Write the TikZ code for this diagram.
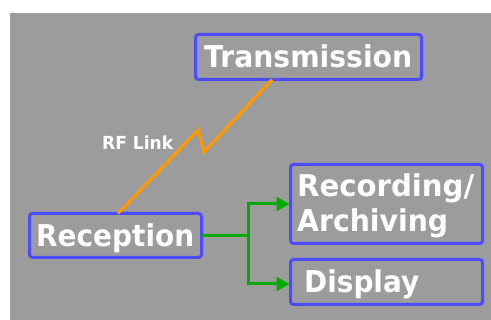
\documentclass[tikz,border=0pt]{standalone}
\usepackage{fontspec}
\setmainfont{DejaVu Sans}
\usetikzlibrary{arrows.meta}
\definecolor{panel}{HTML}{9C9C9C}
\definecolor{boxblue}{HTML}{4B4BFF}
\definecolor{rforange}{HTML}{FF9900}
\definecolor{linkgreen}{HTML}{00AA00}
% stretch or squeeze a word to a given width, keeping its height
\newcommand{\fitw}[2]{\resizebox{#1}{\height}{#2}}
\tikzset{
  blockbox/.style={draw=boxblue, line width=3pt, rounded corners=3pt,
    fill=panel, inner sep=0pt, outer sep=0pt, rectangle},
  blocktext/.style={anchor=base west, inner sep=0pt, text=white,
    font=\fontsize{30}{35}\selectfont\bfseries},
  smalltext/.style={anchor=base west, inner sep=0pt, text=white,
    font=\fontsize{18}{20}\selectfont\bfseries},
  rfline/.style={draw=rforange, line width=3.2pt},
  flowline/.style={draw=linkgreen, line width=3pt},
  flowarrow/.style={flowline, -{Triangle[length=13pt,width=14pt]}, shorten >=1pt},
}
\begin{document}
\begin{tikzpicture}[x=1pt,y=-1pt]
  \useasboundingbox (0,0) rectangle (491,320);
  \fill[white] (0,0) rectangle (491,320);
  \fill[panel] (10,13) rectangle (491,320);

  % the four blocks
  \node[blockbox, minimum width=226pt, minimum height=45pt] (trans) at (308.5,57) {};
  \node[blockbox, minimum width=172pt, minimum height=44pt] (rec) at (115.5,235.5) {};
  \node[blockbox, minimum width=192pt, minimum height=79pt] (arch) at (386.5,204) {};
  \node[blockbox, minimum width=192pt, minimum height=45pt] (disp) at (386.5,282) {};

  % labels
  \node[blocktext] (transtext) at (204,68) {\fitw{208pt}{Transmission}};
  \node[blocktext] (rectext) at (36,247) {\fitw{158pt}{Reception}};
  \node[blocktext] (archtext1) at (297,197) {\fitw{177pt}{Recording/}};
  \node[blocktext] (archtext2) at (297,232) {\fitw{151pt}{Archiving}};
  \node[blocktext] (disptext) at (304,293) {\fitw{115pt}{Display}};
  \node[smalltext] (rftext) at (102,150) {\fitw{71pt}{RF Link}};

  % radio link with its zigzag
  \draw[rfline] ([xshift=88.5pt]rec.north west) -- (198,130) -- (204,152)
    -- ([xshift=76.5pt]trans.south west);

  % reception feeding recording and display
  \draw[flowline] (rec.east) -- (248,235.5) coordinate (split);
  \draw[flowarrow] (split) |- (arch.west);
  \draw[flowarrow] (split) |- ([yshift=-2pt]disp.west);
\end{tikzpicture}
\end{document}
